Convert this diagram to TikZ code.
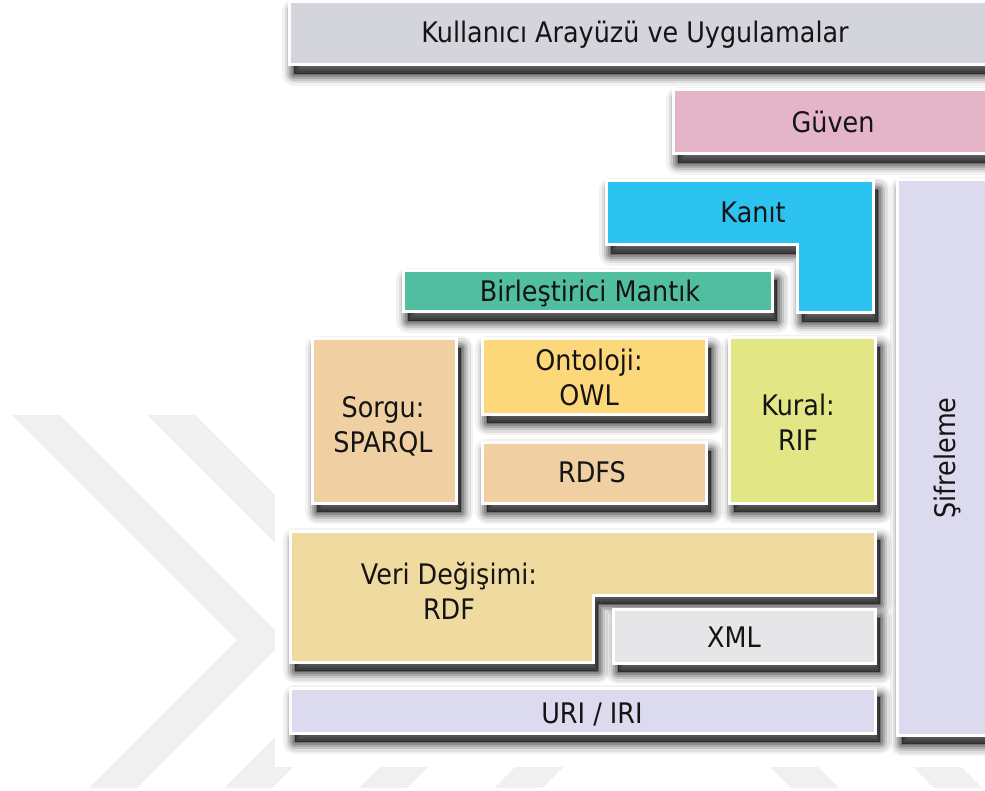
\documentclass[tikz,border=0pt]{standalone}
\usepackage{fontspec}
\setmainfont{DejaVu Sans}[FakeStretch=0.9]

% layer colours
\definecolor{cUser}{RGB}{211,212,220}
\definecolor{cTrust}{RGB}{228,180,200}
\definecolor{cProof}{RGB}{44,195,240}
\definecolor{cLogic}{RGB}{82,190,160}
\definecolor{cQuery}{RGB}{240,208,162}
\definecolor{cOnto}{RGB}{253,216,122}
\definecolor{cRule}{RGB}{226,230,132}
\definecolor{cData}{RGB}{239,219,160}
\definecolor{cXml}{RGB}{230,230,232}
\definecolor{cUri}{RGB}{220,218,238}
\definecolor{cMark}{RGB}{240,240,240}

% one chevron of the background pattern, top-left corner at (#1,#2)
\newcommand\wmchevron[2]{%
  \fill[cMark] (#1,#2) -- ++(48,0) -- ++(225,225) -- ++(-225,225)
    -- ++(-48,0) -- ++(225,-225) -- cycle;}

\begin{document}
\begin{tikzpicture}[x=1pt,y=-1pt,
  layer/.style={draw=white, line width=3pt, line join=miter,
    preaction={fill=black, draw=black, line width=24pt, opacity=0.05, line join=round,
      transform canvas={xshift=5pt,yshift=-9pt}},
    preaction={fill=black, draw=black, line width=19pt, opacity=0.08, line join=round,
      transform canvas={xshift=5pt,yshift=-9pt}},
    preaction={fill=black, draw=black, line width=14pt, opacity=0.11, line join=round,
      transform canvas={xshift=5pt,yshift=-9pt}},
    preaction={fill=black, draw=black, line width=10pt, opacity=0.14, line join=round,
      transform canvas={xshift=5pt,yshift=-9pt}},
    preaction={fill=black, draw=black, line width=6pt, opacity=0.17, line join=round,
      transform canvas={xshift=5pt,yshift=-9pt}},
    preaction={fill=black, draw=black, line width=2pt, opacity=0.22, line join=round,
      transform canvas={xshift=5pt,yshift=-9pt}}},
  lbl/.style={font=\fontsize{28.3}{35}\selectfont, text=black!92, align=center,
    inner sep=0pt, anchor=base}
]
\useasboundingbox (0,0) rectangle (985,791);

% background chevron pattern
\begin{scope}
  \clip (0,0) rectangle (985,787);
  \foreach \x in {12,147,282,417} {\wmchevron{\x}{415}}
  \foreach \x in {770,913} {\wmchevron{\x}{767}}
\end{scope}

% white panel carrying the stack
\fill[white] (275,0) rectangle (985,767);

% top layers
\path[layer, fill=cUser]  (289,2) rectangle (995,65);
\node[lbl] (user) at (635,43) {Kullanıcı Arayüzü ve Uygulamalar};

\path[layer, fill=cTrust] (673,90) rectangle (995,154);
\node[lbl] (trust) at (833,133) {Güven};

\path[layer, fill=cProof] (606,181) -- (873,181) -- (873,313) -- (797,313)
  -- (797,245) -- (606,245) -- cycle;
\node[lbl] (proof) at (753,223) {Kanıt};

\path[layer, fill=cLogic] (403,271) rectangle (772,312);
\node[lbl] (logic) at (590,302) {Birleştirici Mantık};

% middle layers (two-line labels are placed by their last baseline)
\path[layer, fill=cQuery] (312,339) rectangle (456,503);
\node[lbl] (query) at (383,452) {Sorgu:\\SPARQL};

\path[layer, fill=cOnto]  (482,339) rectangle (706,414);
\node[lbl] (onto) at (589,405) {Ontoloji:\\OWL};

\path[layer, fill=cQuery] (482,442) rectangle (706,503);
\node[lbl] (rdfs) at (592,482) {RDFS};

\path[layer, fill=cRule]  (729,338) rectangle (875,503);
\node[lbl] (rule) at (798,450) {Kural:\\RIF};

% bottom layers
\path[layer, fill=cData] (290,531) -- (875,531) -- (875,595) -- (593,595)
  -- (593,662) -- (290,662) -- cycle;
\node[lbl] (rdf) at (449,619) {Veri Değişimi:\\RDF};

\path[layer, fill=cXml] (613,609) rectangle (875,663);
\node[lbl] (xml) at (734,647) {XML};

\path[layer, fill=cUri] (290,688) rectangle (875,733);
\node[lbl] (uri) at (592,723) {URI / IRI};

% vertical layer on the right
\path[layer, fill=cUri] (897,180) rectangle (995,735);
\node[lbl, rotate=90] (crypt) at (955,458) {Şifreleme};
\end{tikzpicture}
\end{document}
